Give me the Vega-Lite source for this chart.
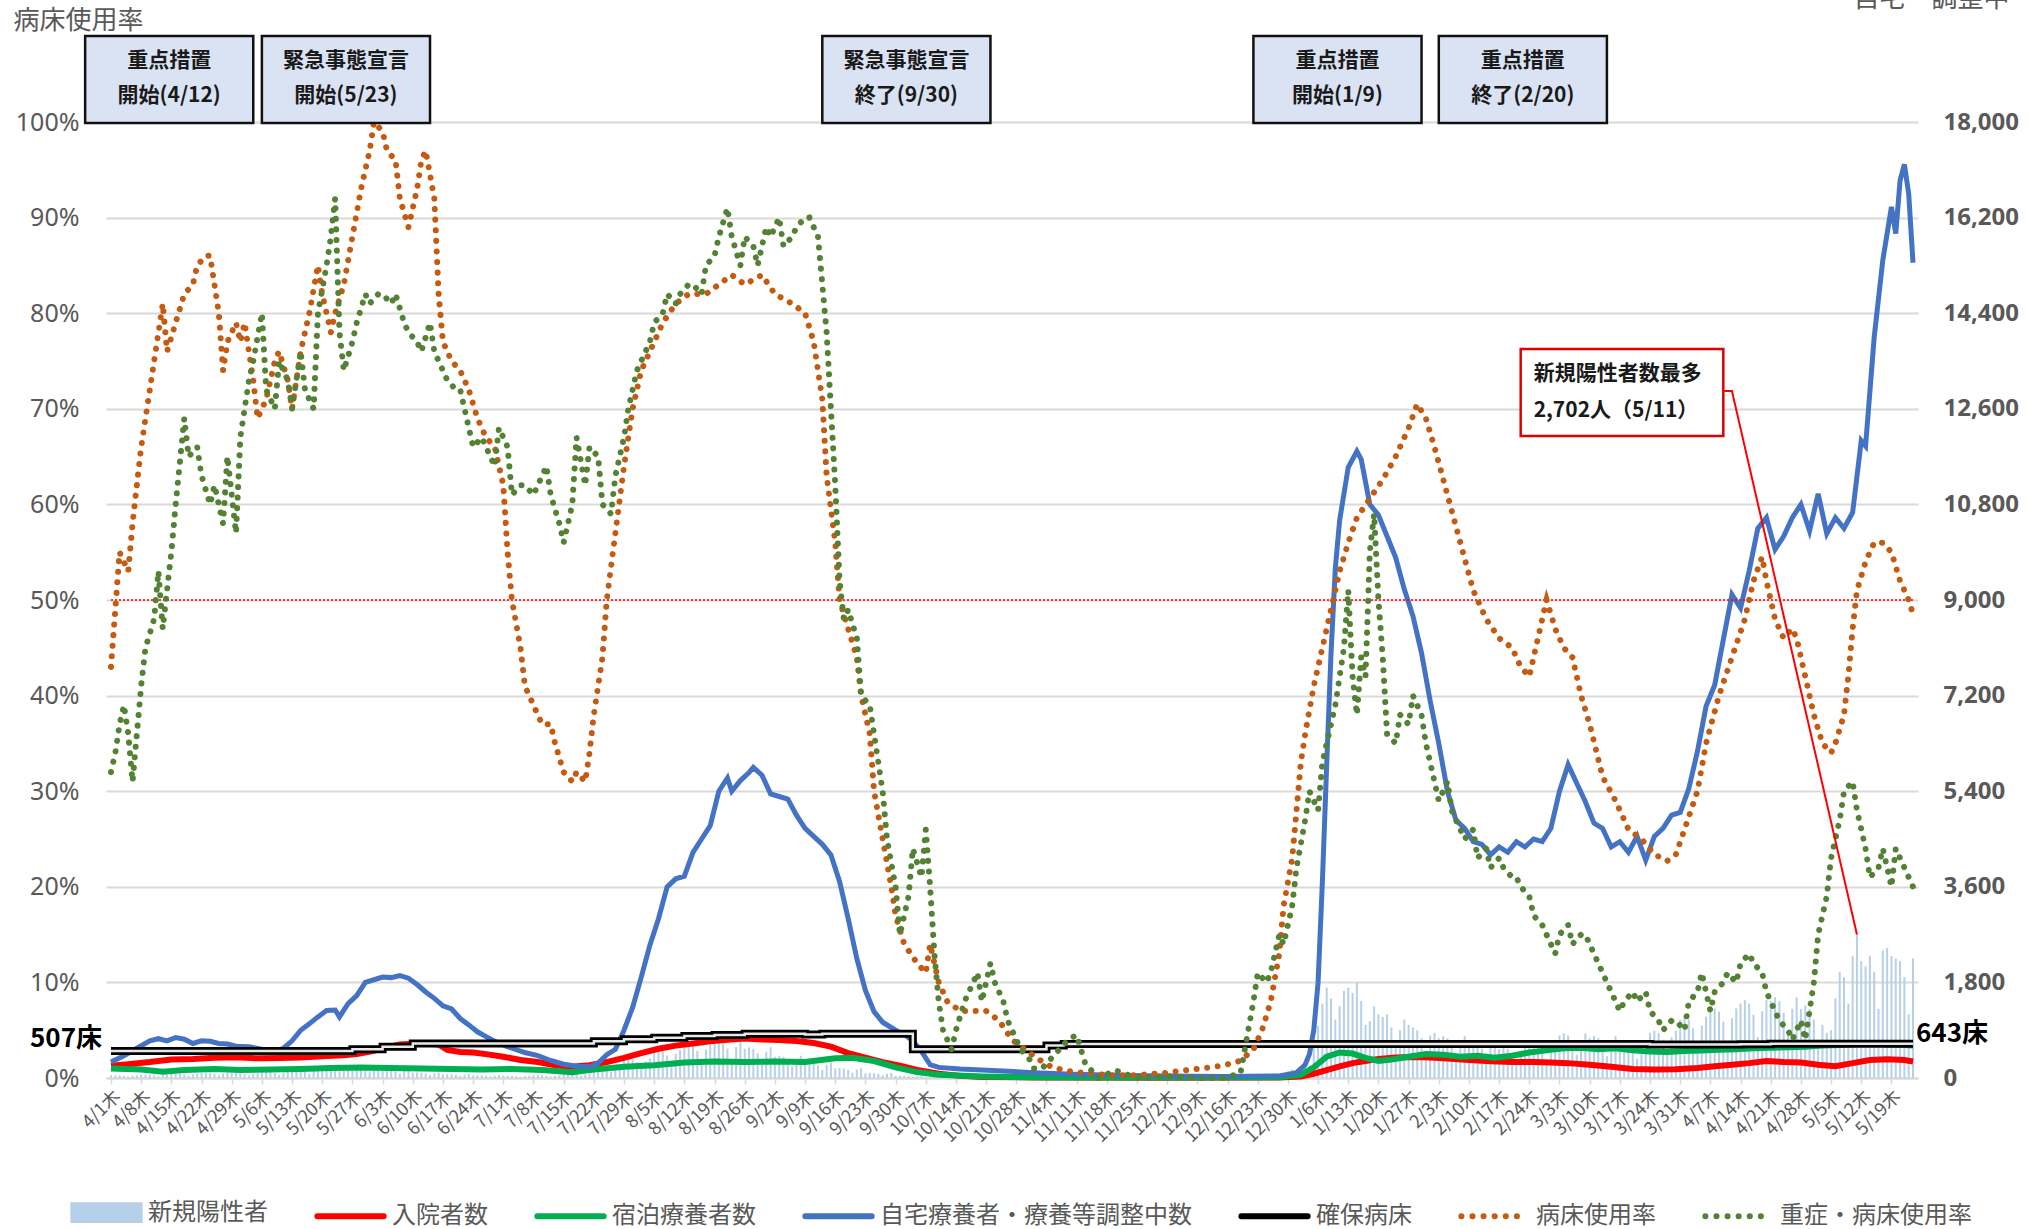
{
"$schema": "https://vega.github.io/schema/vega-lite/v6.json",
"width": 1812, "height": 956,
"autosize": {"type": "none"},
"padding": {"left": 106, "top": 122, "right": 111, "bottom": 151},
"background": "white",
"config": {"view": {"stroke": null}, "font": "Noto Sans CJK JP"},
"datasets": {
"pos": [
{"d":"2021-04-01","v":50},{"d":"2021-04-02","v":53},{"d":"2021-04-03","v":50},{"d":"2021-04-04","v":43},{"d":"2021-04-05","v":28},{"d":"2021-04-06","v":45},{"d":"2021-04-07","v":53},{"d":"2021-04-08","v":60},{"d":"2021-04-09","v":63},{"d":"2021-04-10","v":60},{"d":"2021-04-11","v":51},{"d":"2021-04-12","v":33},{"d":"2021-04-13","v":54},{"d":"2021-04-14","v":63},{"d":"2021-04-15","v":80},{"d":"2021-04-16","v":84},{"d":"2021-04-17","v":80},{"d":"2021-04-18","v":68},{"d":"2021-04-19","v":44},{"d":"2021-04-20","v":72},{"d":"2021-04-21","v":84},{"d":"2021-04-22","v":95},{"d":"2021-04-23","v":100},{"d":"2021-04-24","v":95},{"d":"2021-04-25","v":81},{"d":"2021-04-26","v":52},{"d":"2021-04-27","v":86},{"d":"2021-04-28","v":100},{"d":"2021-04-29","v":90},{"d":"2021-04-30","v":95},
{"d":"2021-05-01","v":90},{"d":"2021-05-02","v":77},{"d":"2021-05-03","v":50},{"d":"2021-05-04","v":81},{"d":"2021-05-05","v":95},{"d":"2021-05-06","v":110},{"d":"2021-05-07","v":116},{"d":"2021-05-08","v":110},{"d":"2021-05-09","v":94},{"d":"2021-05-10","v":61},{"d":"2021-05-11","v":99},{"d":"2021-05-12","v":116},{"d":"2021-05-13","v":150},{"d":"2021-05-14","v":158},{"d":"2021-05-15","v":150},{"d":"2021-05-16","v":128},{"d":"2021-05-17","v":83},{"d":"2021-05-18","v":135},{"d":"2021-05-19","v":158},{"d":"2021-05-20","v":230},{"d":"2021-05-21","v":242},{"d":"2021-05-22","v":230},{"d":"2021-05-23","v":196},{"d":"2021-05-24","v":127},{"d":"2021-05-25","v":207},{"d":"2021-05-26","v":242},{"d":"2021-05-27","v":200},{"d":"2021-05-28","v":210},{"d":"2021-05-29","v":200},{"d":"2021-05-30","v":170},{"d":"2021-05-31","v":110},
{"d":"2021-06-01","v":180},{"d":"2021-06-02","v":210},{"d":"2021-06-03","v":150},{"d":"2021-06-04","v":158},{"d":"2021-06-05","v":150},{"d":"2021-06-06","v":128},{"d":"2021-06-07","v":83},{"d":"2021-06-08","v":135},{"d":"2021-06-09","v":158},{"d":"2021-06-10","v":100},{"d":"2021-06-11","v":105},{"d":"2021-06-12","v":100},{"d":"2021-06-13","v":85},{"d":"2021-06-14","v":55},{"d":"2021-06-15","v":90},{"d":"2021-06-16","v":105},{"d":"2021-06-17","v":70},{"d":"2021-06-18","v":74},{"d":"2021-06-19","v":70},{"d":"2021-06-20","v":60},{"d":"2021-06-21","v":39},{"d":"2021-06-22","v":63},{"d":"2021-06-23","v":74},{"d":"2021-06-24","v":50},{"d":"2021-06-25","v":53},{"d":"2021-06-26","v":50},{"d":"2021-06-27","v":43},{"d":"2021-06-28","v":28},{"d":"2021-06-29","v":45},{"d":"2021-06-30","v":53},
{"d":"2021-07-01","v":40},{"d":"2021-07-02","v":42},{"d":"2021-07-03","v":40},{"d":"2021-07-04","v":34},{"d":"2021-07-05","v":22},{"d":"2021-07-06","v":36},{"d":"2021-07-07","v":42},{"d":"2021-07-08","v":50},{"d":"2021-07-09","v":53},{"d":"2021-07-10","v":50},{"d":"2021-07-11","v":43},{"d":"2021-07-12","v":28},{"d":"2021-07-13","v":45},{"d":"2021-07-14","v":53},{"d":"2021-07-15","v":80},{"d":"2021-07-16","v":84},{"d":"2021-07-17","v":80},{"d":"2021-07-18","v":68},{"d":"2021-07-19","v":44},{"d":"2021-07-20","v":72},{"d":"2021-07-21","v":84},{"d":"2021-07-22","v":200},{"d":"2021-07-23","v":210},{"d":"2021-07-24","v":200},{"d":"2021-07-25","v":170},{"d":"2021-07-26","v":110},{"d":"2021-07-27","v":180},{"d":"2021-07-28","v":210},{"d":"2021-07-29","v":350},{"d":"2021-07-30","v":368},{"d":"2021-07-31","v":350},
{"d":"2021-08-01","v":298},{"d":"2021-08-02","v":193},{"d":"2021-08-03","v":315},{"d":"2021-08-04","v":368},{"d":"2021-08-05","v":500},{"d":"2021-08-06","v":525},{"d":"2021-08-07","v":500},{"d":"2021-08-08","v":425},{"d":"2021-08-09","v":275},{"d":"2021-08-10","v":450},{"d":"2021-08-11","v":525},{"d":"2021-08-12","v":600},{"d":"2021-08-13","v":630},{"d":"2021-08-14","v":600},{"d":"2021-08-15","v":510},{"d":"2021-08-16","v":330},{"d":"2021-08-17","v":540},{"d":"2021-08-18","v":630},{"d":"2021-08-19","v":650},{"d":"2021-08-20","v":683},{"d":"2021-08-21","v":650},{"d":"2021-08-22","v":553},{"d":"2021-08-23","v":358},{"d":"2021-08-24","v":585},{"d":"2021-08-25","v":683},{"d":"2021-08-26","v":550},{"d":"2021-08-27","v":578},{"d":"2021-08-28","v":550},{"d":"2021-08-29","v":468},{"d":"2021-08-30","v":303},{"d":"2021-08-31","v":495},
{"d":"2021-09-01","v":578},{"d":"2021-09-02","v":400},{"d":"2021-09-03","v":420},{"d":"2021-09-04","v":400},{"d":"2021-09-05","v":340},{"d":"2021-09-06","v":220},{"d":"2021-09-07","v":360},{"d":"2021-09-08","v":420},{"d":"2021-09-09","v":280},{"d":"2021-09-10","v":294},{"d":"2021-09-11","v":280},{"d":"2021-09-12","v":238},{"d":"2021-09-13","v":154},{"d":"2021-09-14","v":252},{"d":"2021-09-15","v":294},{"d":"2021-09-16","v":180},{"d":"2021-09-17","v":189},{"d":"2021-09-18","v":180},{"d":"2021-09-19","v":153},{"d":"2021-09-20","v":99},{"d":"2021-09-21","v":162},{"d":"2021-09-22","v":189},{"d":"2021-09-23","v":90},{"d":"2021-09-24","v":95},{"d":"2021-09-25","v":90},{"d":"2021-09-26","v":77},{"d":"2021-09-27","v":50},{"d":"2021-09-28","v":81},{"d":"2021-09-29","v":95},{"d":"2021-09-30","v":40},
{"d":"2021-10-01","v":42},{"d":"2021-10-02","v":40},{"d":"2021-10-03","v":34},{"d":"2021-10-04","v":22},{"d":"2021-10-05","v":36},{"d":"2021-10-06","v":42},{"d":"2021-10-07","v":20},{"d":"2021-10-08","v":21},{"d":"2021-10-09","v":20},{"d":"2021-10-10","v":17},{"d":"2021-10-11","v":11},{"d":"2021-10-12","v":18},{"d":"2021-10-13","v":21},{"d":"2021-10-14","v":12},{"d":"2021-10-15","v":13},{"d":"2021-10-16","v":12},{"d":"2021-10-17","v":10},{"d":"2021-10-18","v":7},{"d":"2021-10-19","v":11},{"d":"2021-10-20","v":13},{"d":"2021-10-21","v":8},{"d":"2021-10-22","v":8},{"d":"2021-10-23","v":8},{"d":"2021-10-24","v":7},{"d":"2021-10-25","v":4},{"d":"2021-10-26","v":7},{"d":"2021-10-27","v":8},{"d":"2021-10-28","v":5},{"d":"2021-10-29","v":5},{"d":"2021-10-30","v":5},{"d":"2021-10-31","v":4},
{"d":"2021-11-01","v":3},{"d":"2021-11-02","v":5},{"d":"2021-11-03","v":5},{"d":"2021-11-04","v":4},{"d":"2021-11-05","v":4},{"d":"2021-11-06","v":4},{"d":"2021-11-07","v":3},{"d":"2021-11-08","v":2},{"d":"2021-11-09","v":4},{"d":"2021-11-10","v":4},{"d":"2021-11-11","v":3},{"d":"2021-11-12","v":3},{"d":"2021-11-13","v":3},{"d":"2021-11-14","v":3},{"d":"2021-11-15","v":2},{"d":"2021-11-16","v":3},{"d":"2021-11-17","v":3},{"d":"2021-11-18","v":2},{"d":"2021-11-19","v":2},{"d":"2021-11-20","v":2},{"d":"2021-11-21","v":2},{"d":"2021-11-22","v":1},{"d":"2021-11-23","v":2},{"d":"2021-11-24","v":2},{"d":"2021-11-25","v":2},{"d":"2021-11-26","v":2},{"d":"2021-11-27","v":2},{"d":"2021-11-28","v":2},{"d":"2021-11-29","v":1},{"d":"2021-11-30","v":2},
{"d":"2021-12-01","v":2},{"d":"2021-12-02","v":2},{"d":"2021-12-03","v":2},{"d":"2021-12-04","v":2},{"d":"2021-12-05","v":2},{"d":"2021-12-06","v":1},{"d":"2021-12-07","v":2},{"d":"2021-12-08","v":2},{"d":"2021-12-09","v":3},{"d":"2021-12-10","v":3},{"d":"2021-12-11","v":3},{"d":"2021-12-12","v":3},{"d":"2021-12-13","v":2},{"d":"2021-12-14","v":3},{"d":"2021-12-15","v":3},{"d":"2021-12-16","v":5},{"d":"2021-12-17","v":5},{"d":"2021-12-18","v":5},{"d":"2021-12-19","v":4},{"d":"2021-12-20","v":3},{"d":"2021-12-21","v":5},{"d":"2021-12-22","v":6},{"d":"2021-12-23","v":10},{"d":"2021-12-24","v":15},{"d":"2021-12-25","v":20},{"d":"2021-12-26","v":25},{"d":"2021-12-27","v":30},{"d":"2021-12-28","v":40},{"d":"2021-12-29","v":60},{"d":"2021-12-30","v":120},{"d":"2021-12-31","v":160},
{"d":"2022-01-01","v":130},{"d":"2022-01-02","v":200},{"d":"2022-01-03","v":225},{"d":"2022-01-04","v":225},{"d":"2022-01-05","v":620},{"d":"2022-01-06","v":980},{"d":"2022-01-07","v":1400},{"d":"2022-01-08","v":1700},{"d":"2022-01-09","v":1500},{"d":"2022-01-10","v":1100},{"d":"2022-01-11","v":1350},{"d":"2022-01-12","v":1640},{"d":"2022-01-13","v":1700},{"d":"2022-01-14","v":1600},{"d":"2022-01-15","v":1800},{"d":"2022-01-16","v":1450},{"d":"2022-01-17","v":1000},{"d":"2022-01-18","v":1070},{"d":"2022-01-19","v":1350},{"d":"2022-01-20","v":1200},{"d":"2022-01-21","v":1150},{"d":"2022-01-22","v":1200},{"d":"2022-01-23","v":950},{"d":"2022-01-24","v":600},{"d":"2022-01-25","v":900},{"d":"2022-01-26","v":1100},{"d":"2022-01-27","v":1000},{"d":"2022-01-28","v":950},{"d":"2022-01-29","v":900},{"d":"2022-01-30","v":750},{"d":"2022-01-31","v":500},
{"d":"2022-02-01","v":800},{"d":"2022-02-02","v":850},{"d":"2022-02-03","v":750},{"d":"2022-02-04","v":790},{"d":"2022-02-05","v":750},{"d":"2022-02-06","v":640},{"d":"2022-02-07","v":410},{"d":"2022-02-08","v":675},{"d":"2022-02-09","v":790},{"d":"2022-02-10","v":650},{"d":"2022-02-11","v":680},{"d":"2022-02-12","v":650},{"d":"2022-02-13","v":550},{"d":"2022-02-14","v":360},{"d":"2022-02-15","v":585},{"d":"2022-02-16","v":680},{"d":"2022-02-17","v":550},{"d":"2022-02-18","v":580},{"d":"2022-02-19","v":550},{"d":"2022-02-20","v":470},{"d":"2022-02-21","v":300},{"d":"2022-02-22","v":495},{"d":"2022-02-23","v":580},{"d":"2022-02-24","v":600},{"d":"2022-02-25","v":630},{"d":"2022-02-26","v":600},{"d":"2022-02-27","v":510},{"d":"2022-02-28","v":330},
{"d":"2022-03-01","v":540},{"d":"2022-03-02","v":630},{"d":"2022-03-03","v":800},{"d":"2022-03-04","v":840},{"d":"2022-03-05","v":800},{"d":"2022-03-06","v":680},{"d":"2022-03-07","v":440},{"d":"2022-03-08","v":720},{"d":"2022-03-09","v":840},{"d":"2022-03-10","v":750},{"d":"2022-03-11","v":790},{"d":"2022-03-12","v":750},{"d":"2022-03-13","v":640},{"d":"2022-03-14","v":410},{"d":"2022-03-15","v":675},{"d":"2022-03-16","v":790},{"d":"2022-03-17","v":650},{"d":"2022-03-18","v":680},{"d":"2022-03-19","v":650},{"d":"2022-03-20","v":550},{"d":"2022-03-21","v":360},{"d":"2022-03-22","v":585},{"d":"2022-03-23","v":680},{"d":"2022-03-24","v":850},{"d":"2022-03-25","v":890},{"d":"2022-03-26","v":850},{"d":"2022-03-27","v":720},{"d":"2022-03-28","v":470},{"d":"2022-03-29","v":765},{"d":"2022-03-30","v":890},{"d":"2022-03-31","v":1100},
{"d":"2022-04-01","v":1155},{"d":"2022-04-02","v":1100},{"d":"2022-04-03","v":935},{"d":"2022-04-04","v":605},{"d":"2022-04-05","v":990},{"d":"2022-04-06","v":1155},{"d":"2022-04-07","v":1250},{"d":"2022-04-08","v":1310},{"d":"2022-04-09","v":1250},{"d":"2022-04-10","v":1060},{"d":"2022-04-11","v":690},{"d":"2022-04-12","v":1125},{"d":"2022-04-13","v":1310},{"d":"2022-04-14","v":1400},{"d":"2022-04-15","v":1470},{"d":"2022-04-16","v":1400},{"d":"2022-04-17","v":1190},{"d":"2022-04-18","v":770},{"d":"2022-04-19","v":1260},{"d":"2022-04-20","v":1470},{"d":"2022-04-21","v":1450},{"d":"2022-04-22","v":1520},{"d":"2022-04-23","v":1450},{"d":"2022-04-24","v":1230},{"d":"2022-04-25","v":800},{"d":"2022-04-26","v":1305},{"d":"2022-04-27","v":1520},{"d":"2022-04-28","v":1300},{"d":"2022-04-29","v":1370},{"d":"2022-04-30","v":1300},
{"d":"2022-05-01","v":1100},{"d":"2022-05-02","v":720},{"d":"2022-05-03","v":1000},{"d":"2022-05-04","v":850},{"d":"2022-05-05","v":900},{"d":"2022-05-06","v":1500},{"d":"2022-05-07","v":2000},{"d":"2022-05-08","v":1900},{"d":"2022-05-09","v":1400},{"d":"2022-05-10","v":2300},{"d":"2022-05-11","v":2702},{"d":"2022-05-12","v":2200},{"d":"2022-05-13","v":2100},{"d":"2022-05-14","v":2300},{"d":"2022-05-15","v":2000},{"d":"2022-05-16","v":1300},{"d":"2022-05-17","v":2400},{"d":"2022-05-18","v":2450},{"d":"2022-05-19","v":2300},{"d":"2022-05-20","v":2250},{"d":"2022-05-21","v":2200},{"d":"2022-05-22","v":1900},{"d":"2022-05-23","v":1200},{"d":"2022-05-24","v":2250}
],
"hosp": [
{"d":"2021-04-01","v":230},{"d":"2021-04-05","v":260},{"d":"2021-04-10","v":300},{"d":"2021-04-15","v":350},{"d":"2021-04-20","v":360},{"d":"2021-04-25","v":380},{"d":"2021-04-30","v":390},{"d":"2021-05-05","v":370},{"d":"2021-05-10","v":375},{"d":"2021-05-15","v":385},{"d":"2021-05-20","v":410},{"d":"2021-05-25","v":430},{"d":"2021-05-28","v":450},{"d":"2021-06-01","v":510},{"d":"2021-06-04","v":580},{"d":"2021-06-07","v":630},{"d":"2021-06-10","v":645},{"d":"2021-06-13","v":650},{"d":"2021-06-16","v":630},{"d":"2021-06-18","v":530},{"d":"2021-06-21","v":490},{"d":"2021-06-24","v":480},{"d":"2021-06-27","v":450},{"d":"2021-07-01","v":400},{"d":"2021-07-05","v":340},{"d":"2021-07-09","v":300},{"d":"2021-07-13","v":240},{"d":"2021-07-17","v":210},{"d":"2021-07-21","v":240},{"d":"2021-07-25","v":300},{"d":"2021-07-29","v":380},{"d":"2021-08-02","v":470},{"d":"2021-08-06","v":550},{"d":"2021-08-10","v":610},{"d":"2021-08-14","v":650},{"d":"2021-08-18","v":690},{"d":"2021-08-22","v":720},{"d":"2021-08-26","v":745},{"d":"2021-08-30","v":725},{"d":"2021-09-03","v":715},{"d":"2021-09-07","v":695},{"d":"2021-09-11","v":660},{"d":"2021-09-15","v":590},{"d":"2021-09-19","v":470},{"d":"2021-09-23","v":385},{"d":"2021-09-27","v":300},{"d":"2021-10-01","v":230},{"d":"2021-10-05","v":150},{"d":"2021-10-10","v":80},{"d":"2021-10-15","v":40},{"d":"2021-10-20","v":20},{"d":"2021-11-01","v":10},{"d":"2021-12-01","v":5},{"d":"2021-12-28","v":10},
{"d":"2022-01-02","v":30},{"d":"2022-01-05","v":80},{"d":"2022-01-08","v":150},{"d":"2022-01-11","v":220},{"d":"2022-01-14","v":280},{"d":"2022-01-17","v":320},{"d":"2022-01-20","v":360},{"d":"2022-01-24","v":385},{"d":"2022-01-28","v":395},{"d":"2022-02-01","v":385},{"d":"2022-02-05","v":365},{"d":"2022-02-10","v":340},{"d":"2022-02-15","v":315},{"d":"2022-02-20","v":300},{"d":"2022-02-25","v":300},{"d":"2022-03-01","v":290},{"d":"2022-03-05","v":280},{"d":"2022-03-10","v":250},{"d":"2022-03-15","v":210},{"d":"2022-03-20","v":170},{"d":"2022-03-25","v":160},{"d":"2022-03-30","v":165},{"d":"2022-04-04","v":190},{"d":"2022-04-08","v":220},{"d":"2022-04-12","v":250},{"d":"2022-04-16","v":280},{"d":"2022-04-20","v":320},{"d":"2022-04-24","v":300},{"d":"2022-04-28","v":290},{"d":"2022-05-02","v":250},{"d":"2022-05-06","v":220},{"d":"2022-05-10","v":280},{"d":"2022-05-14","v":340},{"d":"2022-05-18","v":355},{"d":"2022-05-22","v":340},{"d":"2022-05-24","v":310}
],
"hotel": [
{"d":"2021-04-01","v":180},{"d":"2021-04-08","v":160},{"d":"2021-04-13","v":120},{"d":"2021-04-18","v":150},{"d":"2021-04-25","v":170},{"d":"2021-05-01","v":150},{"d":"2021-05-08","v":160},{"d":"2021-05-15","v":170},{"d":"2021-05-22","v":190},{"d":"2021-05-29","v":200},{"d":"2021-06-05","v":190},{"d":"2021-06-12","v":180},{"d":"2021-06-19","v":170},{"d":"2021-06-26","v":160},{"d":"2021-07-03","v":170},{"d":"2021-07-10","v":150},{"d":"2021-07-17","v":110},{"d":"2021-07-22","v":160},{"d":"2021-07-29","v":210},{"d":"2021-08-05","v":240},{"d":"2021-08-12","v":290},{"d":"2021-08-19","v":310},{"d":"2021-08-26","v":300},{"d":"2021-09-02","v":310},{"d":"2021-09-09","v":300},{"d":"2021-09-16","v":370},{"d":"2021-09-20","v":380},{"d":"2021-09-25","v":320},{"d":"2021-09-30","v":200},{"d":"2021-10-05","v":110},{"d":"2021-10-10","v":60},{"d":"2021-10-20","v":30},{"d":"2021-11-01","v":15},{"d":"2021-12-01","v":10},{"d":"2021-12-28","v":15},
{"d":"2022-01-02","v":60},{"d":"2022-01-05","v":200},{"d":"2022-01-08","v":400},{"d":"2022-01-11","v":480},{"d":"2022-01-14","v":460},{"d":"2022-01-17","v":380},{"d":"2022-01-20","v":320},{"d":"2022-01-23","v":350},{"d":"2022-01-27","v":400},{"d":"2022-01-31","v":450},{"d":"2022-02-04","v":440},{"d":"2022-02-08","v":400},{"d":"2022-02-12","v":420},{"d":"2022-02-16","v":380},{"d":"2022-02-20","v":420},{"d":"2022-02-24","v":480},{"d":"2022-02-28","v":520},{"d":"2022-03-04","v":560},{"d":"2022-03-08","v":570},{"d":"2022-03-12","v":540},{"d":"2022-03-16","v":560},{"d":"2022-03-20","v":520},{"d":"2022-03-24","v":500},{"d":"2022-03-28","v":490},{"d":"2022-04-01","v":510},{"d":"2022-04-05","v":520},{"d":"2022-04-09","v":530},{"d":"2022-04-13","v":540},{"d":"2022-04-17","v":560},{"d":"2022-04-21","v":570},{"d":"2022-04-25","v":580},{"d":"2022-04-29","v":590},{"d":"2022-05-03","v":610},{"d":"2022-05-07","v":620},{"d":"2022-05-11","v":640},{"d":"2022-05-14","v":660},{"d":"2022-05-18","v":630},{"d":"2022-05-22","v":620},{"d":"2022-05-24","v":610}
],
"home": [
{"d":"2021-04-01","v":300},{"d":"2021-04-04","v":420},{"d":"2021-04-07","v":560},{"d":"2021-04-10","v":700},{"d":"2021-04-12","v":740},{"d":"2021-04-14","v":700},{"d":"2021-04-16","v":760},{"d":"2021-04-18","v":730},{"d":"2021-04-20","v":650},{"d":"2021-04-22","v":700},{"d":"2021-04-24","v":690},{"d":"2021-04-26","v":650},{"d":"2021-04-28","v":640},{"d":"2021-04-30","v":600},{"d":"2021-05-03","v":590},{"d":"2021-05-06","v":540},{"d":"2021-05-09","v":500},{"d":"2021-05-11","v":560},{"d":"2021-05-13","v":700},{"d":"2021-05-15","v":900},{"d":"2021-05-17","v":1020},{"d":"2021-05-19","v":1150},{"d":"2021-05-21","v":1270},{"d":"2021-05-23","v":1280},{"d":"2021-05-24","v":1150},{"d":"2021-05-26","v":1400},{"d":"2021-05-28","v":1550},{"d":"2021-05-30","v":1800},{"d":"2021-06-01","v":1850},{"d":"2021-06-03","v":1900},{"d":"2021-06-05","v":1890},{"d":"2021-06-07","v":1930},{"d":"2021-06-09","v":1880},{"d":"2021-06-11","v":1760},{"d":"2021-06-13","v":1620},{"d":"2021-06-15","v":1500},{"d":"2021-06-17","v":1360},{"d":"2021-06-19","v":1300},{"d":"2021-06-21","v":1120},{"d":"2021-06-23","v":1000},{"d":"2021-06-25","v":870},{"d":"2021-06-27","v":780},{"d":"2021-06-30","v":650},{"d":"2021-07-03","v":560},{"d":"2021-07-06","v":480},{"d":"2021-07-09","v":420},{"d":"2021-07-12","v":330},{"d":"2021-07-15","v":260},{"d":"2021-07-18","v":220},{"d":"2021-07-21","v":210},{"d":"2021-07-23","v":280},{"d":"2021-07-25","v":440},{"d":"2021-07-27","v":540},{"d":"2021-07-29","v":900},{"d":"2021-07-31","v":1330},{"d":"2021-08-02","v":1900},{"d":"2021-08-04","v":2500},{"d":"2021-08-06","v":3000},{"d":"2021-08-08","v":3600},{"d":"2021-08-10","v":3750},{"d":"2021-08-12","v":3800},{"d":"2021-08-14","v":4250},{"d":"2021-08-16","v":4500},{"d":"2021-08-18","v":4750},{"d":"2021-08-20","v":5400},{"d":"2021-08-22","v":5650},{"d":"2021-08-23","v":5400},{"d":"2021-08-25","v":5600},{"d":"2021-08-27","v":5750},{"d":"2021-08-28","v":5850},{"d":"2021-08-30","v":5700},{"d":"2021-09-01","v":5350},{"d":"2021-09-03","v":5300},{"d":"2021-09-05","v":5250},{"d":"2021-09-07","v":4950},{"d":"2021-09-09","v":4700},{"d":"2021-09-11","v":4550},{"d":"2021-09-13","v":4400},{"d":"2021-09-15","v":4200},{"d":"2021-09-17","v":3700},{"d":"2021-09-19","v":3000},{"d":"2021-09-21","v":2250},{"d":"2021-09-23","v":1650},{"d":"2021-09-25","v":1250},{"d":"2021-09-27","v":1050},{"d":"2021-09-30","v":900},{"d":"2021-10-02","v":820},{"d":"2021-10-04","v":700},{"d":"2021-10-06","v":500},{"d":"2021-10-08","v":250},{"d":"2021-10-10","v":200},{"d":"2021-10-15","v":170},{"d":"2021-10-20","v":150},{"d":"2021-10-25","v":130},{"d":"2021-11-01","v":100},{"d":"2021-11-10","v":70},{"d":"2021-11-20","v":50},{"d":"2021-12-01","v":40},{"d":"2021-12-15","v":30},{"d":"2021-12-28","v":40},
{"d":"2022-01-01","v":100},{"d":"2022-01-03","v":250},{"d":"2022-01-04","v":450},{"d":"2022-01-05","v":900},{"d":"2022-01-06","v":1800},{"d":"2022-01-07","v":3700},{"d":"2022-01-08","v":5900},{"d":"2022-01-09","v":8000},{"d":"2022-01-10","v":9600},{"d":"2022-01-11","v":10500},{"d":"2022-01-13","v":11500},{"d":"2022-01-15","v":11800},{"d":"2022-01-16","v":11650},{"d":"2022-01-18","v":10800},{"d":"2022-01-20","v":10600},{"d":"2022-01-22","v":10200},{"d":"2022-01-24","v":9800},{"d":"2022-01-26","v":9200},{"d":"2022-01-28","v":8700},{"d":"2022-01-30","v":8000},{"d":"2022-02-01","v":7100},{"d":"2022-02-03","v":6300},{"d":"2022-02-05","v":5400},{"d":"2022-02-07","v":4850},{"d":"2022-02-09","v":4700},{"d":"2022-02-11","v":4450},{"d":"2022-02-13","v":4400},{"d":"2022-02-15","v":4200},{"d":"2022-02-17","v":4350},{"d":"2022-02-19","v":4250},{"d":"2022-02-21","v":4450},{"d":"2022-02-23","v":4350},{"d":"2022-02-25","v":4500},{"d":"2022-02-27","v":4450},{"d":"2022-03-01","v":4700},{"d":"2022-03-03","v":5400},{"d":"2022-03-05","v":5900},{"d":"2022-03-07","v":5550},{"d":"2022-03-09","v":5200},{"d":"2022-03-11","v":4800},{"d":"2022-03-13","v":4700},{"d":"2022-03-15","v":4350},{"d":"2022-03-17","v":4450},{"d":"2022-03-19","v":4250},{"d":"2022-03-21","v":4550},{"d":"2022-03-23","v":4100},{"d":"2022-03-25","v":4550},{"d":"2022-03-27","v":4700},{"d":"2022-03-29","v":4950},{"d":"2022-03-31","v":5000},{"d":"2022-04-02","v":5450},{"d":"2022-04-04","v":6150},{"d":"2022-04-06","v":7000},{"d":"2022-04-08","v":7400},{"d":"2022-04-10","v":8250},{"d":"2022-04-12","v":9100},{"d":"2022-04-14","v":8850},{"d":"2022-04-16","v":9550},{"d":"2022-04-18","v":10350},{"d":"2022-04-20","v":10550},{"d":"2022-04-22","v":9950},{"d":"2022-04-24","v":10200},{"d":"2022-04-26","v":10550},{"d":"2022-04-28","v":10800},{"d":"2022-04-30","v":10300},{"d":"2022-05-02","v":11000},{"d":"2022-05-04","v":10250},{"d":"2022-05-06","v":10550},{"d":"2022-05-08","v":10350},{"d":"2022-05-10","v":10650},{"d":"2022-05-12","v":12000},{"d":"2022-05-13","v":11900},{"d":"2022-05-15","v":13950},{"d":"2022-05-17","v":15400},{"d":"2022-05-19","v":16400},{"d":"2022-05-20","v":15900},{"d":"2022-05-21","v":16900},{"d":"2022-05-22","v":17200},{"d":"2022-05-23","v":16650},{"d":"2022-05-24","v":15350}
],
"beds": [
{"d":"2021-04-01","v":507},{"d":"2021-05-27","v":540},{"d":"2021-06-03","v":590},{"d":"2021-06-10","v":650},{"d":"2021-07-22","v":690},{"d":"2021-07-29","v":730},{"d":"2021-08-05","v":760},{"d":"2021-08-12","v":790},{"d":"2021-08-19","v":810},{"d":"2021-08-26","v":835},{"d":"2021-09-09","v":820},{"d":"2021-09-13","v":835},{"d":"2021-10-04","v":540},{"d":"2021-11-04","v":610},{"d":"2021-11-08","v":640},{"d":"2022-03-24","v":630},{"d":"2022-04-14","v":636},{"d":"2022-04-21","v":643},{"d":"2022-05-24","v":643}
],
"rate": [
{"d":"2021-04-01","v":43},{"d":"2021-04-02","v":49},{"d":"2021-04-03","v":55},{"d":"2021-04-05","v":53},{"d":"2021-04-06","v":58},{"d":"2021-04-08","v":66},{"d":"2021-04-10","v":72},{"d":"2021-04-12","v":78},{"d":"2021-04-13","v":81},{"d":"2021-04-14","v":76},{"d":"2021-04-16","v":79},{"d":"2021-04-18","v":82},{"d":"2021-04-20","v":83},{"d":"2021-04-21","v":85},{"d":"2021-04-23","v":86},{"d":"2021-04-24","v":86},{"d":"2021-04-26","v":80},{"d":"2021-04-27","v":74},{"d":"2021-04-28","v":77},{"d":"2021-04-30","v":79},{"d":"2021-05-01","v":77},{"d":"2021-05-02","v":79},{"d":"2021-05-04","v":73},{"d":"2021-05-05","v":69},{"d":"2021-05-07","v":71},{"d":"2021-05-09","v":75},{"d":"2021-05-10","v":76},{"d":"2021-05-12","v":73},{"d":"2021-05-13","v":70},{"d":"2021-05-15","v":76},{"d":"2021-05-17","v":80},{"d":"2021-05-19","v":85},{"d":"2021-05-20","v":82},{"d":"2021-05-22","v":78},{"d":"2021-05-23","v":80},{"d":"2021-05-25","v":83},{"d":"2021-05-27","v":88},{"d":"2021-05-29","v":93},{"d":"2021-05-31","v":97},{"d":"2021-06-01","v":100},{"d":"2021-06-03","v":99},{"d":"2021-06-04","v":97},{"d":"2021-06-06","v":96},{"d":"2021-06-07","v":92},{"d":"2021-06-09","v":89},{"d":"2021-06-11","v":93},{"d":"2021-06-12","v":96},{"d":"2021-06-13","v":97},{"d":"2021-06-15","v":92},{"d":"2021-06-16","v":82},{"d":"2021-06-17","v":77},{"d":"2021-06-19","v":75},{"d":"2021-06-21","v":74},{"d":"2021-06-23","v":72},{"d":"2021-06-25","v":69},{"d":"2021-06-27","v":67},{"d":"2021-06-29","v":66},{"d":"2021-07-01","v":62},{"d":"2021-07-02","v":55},{"d":"2021-07-03","v":50},{"d":"2021-07-05","v":45},{"d":"2021-07-06","v":41},{"d":"2021-07-08","v":39},{"d":"2021-07-10","v":37},{"d":"2021-07-12","v":37},{"d":"2021-07-13","v":35},{"d":"2021-07-15","v":32},{"d":"2021-07-17","v":31},{"d":"2021-07-18","v":32},{"d":"2021-07-20","v":31},{"d":"2021-07-21","v":34},{"d":"2021-07-22","v":38},{"d":"2021-07-24","v":44},{"d":"2021-07-25","v":50},{"d":"2021-07-27","v":57},{"d":"2021-07-29","v":64},{"d":"2021-07-31","v":70},{"d":"2021-08-02","v":74},{"d":"2021-08-04","v":76},{"d":"2021-08-07","v":79},{"d":"2021-08-10","v":81},{"d":"2021-08-13","v":82},{"d":"2021-08-17","v":82},{"d":"2021-08-20","v":83},{"d":"2021-08-23","v":84},{"d":"2021-08-26","v":83},{"d":"2021-08-30","v":84},{"d":"2021-09-02","v":82},{"d":"2021-09-06","v":81},{"d":"2021-09-09","v":80},{"d":"2021-09-11","v":77},{"d":"2021-09-13","v":71},{"d":"2021-09-14","v":63},{"d":"2021-09-16","v":56},{"d":"2021-09-17","v":50},{"d":"2021-09-19","v":47},{"d":"2021-09-21","v":44},{"d":"2021-09-22","v":40},{"d":"2021-09-24","v":36},{"d":"2021-09-25","v":30},{"d":"2021-09-27","v":25},{"d":"2021-09-29","v":20},{"d":"2021-09-30","v":17},{"d":"2021-10-02","v":14},{"d":"2021-10-05","v":12},{"d":"2021-10-07","v":11},{"d":"2021-10-08","v":14},{"d":"2021-10-10","v":10},{"d":"2021-10-12","v":8},{"d":"2021-10-15","v":7},{"d":"2021-10-18","v":7},{"d":"2021-10-21","v":7},{"d":"2021-10-24","v":6},{"d":"2021-10-27","v":4},{"d":"2021-10-30","v":3},{"d":"2021-11-02","v":2},{"d":"2021-11-05","v":1.2},{"d":"2021-11-08","v":0.8},{"d":"2021-11-13","v":0.5},{"d":"2021-11-19","v":0.3},{"d":"2021-11-25","v":0.3},{"d":"2021-12-01","v":0.5},{"d":"2021-12-06","v":0.8},{"d":"2021-12-10","v":1},{"d":"2021-12-15","v":1.3},{"d":"2021-12-19","v":1.8},{"d":"2021-12-22","v":3},{"d":"2021-12-24","v":5},{"d":"2021-12-26","v":8},{"d":"2021-12-28","v":13},{"d":"2021-12-29","v":18},{"d":"2021-12-31","v":23},
{"d":"2022-01-01","v":28},{"d":"2022-01-02","v":33},{"d":"2022-01-03","v":36},{"d":"2022-01-05","v":41},{"d":"2022-01-07","v":45},{"d":"2022-01-09","v":49},{"d":"2022-01-11","v":53},{"d":"2022-01-13","v":56},{"d":"2022-01-15","v":58.6},{"d":"2022-01-18","v":60.6},{"d":"2022-01-21","v":62.6},{"d":"2022-01-24","v":65},{"d":"2022-01-27","v":68},{"d":"2022-01-29","v":70.5},{"d":"2022-01-31","v":69},{"d":"2022-02-02","v":66},{"d":"2022-02-05","v":61},{"d":"2022-02-08","v":56},{"d":"2022-02-11","v":51},{"d":"2022-02-14","v":48},{"d":"2022-02-17","v":46},{"d":"2022-02-20","v":45},{"d":"2022-02-22","v":43},{"d":"2022-02-24","v":42},{"d":"2022-02-26","v":46},{"d":"2022-02-28","v":50},{"d":"2022-03-02","v":47},{"d":"2022-03-04","v":45},{"d":"2022-03-06","v":44},{"d":"2022-03-08","v":40},{"d":"2022-03-10","v":37},{"d":"2022-03-13","v":31.5},{"d":"2022-03-16","v":29},{"d":"2022-03-19","v":26},{"d":"2022-03-22","v":25},{"d":"2022-03-25","v":23.4},{"d":"2022-03-28","v":22.7},{"d":"2022-03-30","v":23.4},{"d":"2022-04-01","v":26},{"d":"2022-04-04","v":30},{"d":"2022-04-06","v":35},{"d":"2022-04-09","v":40},{"d":"2022-04-12","v":44},{"d":"2022-04-15","v":48},{"d":"2022-04-17","v":52},{"d":"2022-04-19","v":54.5},{"d":"2022-04-20","v":52},{"d":"2022-04-22","v":48},{"d":"2022-04-24","v":46},{"d":"2022-04-26","v":47},{"d":"2022-04-27","v":46},{"d":"2022-04-29","v":42},{"d":"2022-05-01","v":38},{"d":"2022-05-03","v":35},{"d":"2022-05-05","v":34},{"d":"2022-05-06","v":35},{"d":"2022-05-08","v":38},{"d":"2022-05-09","v":42},{"d":"2022-05-10","v":47},{"d":"2022-05-11","v":51},{"d":"2022-05-13","v":54},{"d":"2022-05-15","v":56},{"d":"2022-05-17","v":56},{"d":"2022-05-19","v":55},{"d":"2022-05-21","v":52},{"d":"2022-05-23","v":50},{"d":"2022-05-24","v":48.5}
],
"severe": [
{"d":"2021-04-01","v":32},{"d":"2021-04-02","v":34},{"d":"2021-04-03","v":37},{"d":"2021-04-04","v":39},{"d":"2021-04-05","v":36},{"d":"2021-04-06","v":31},{"d":"2021-04-08","v":41},{"d":"2021-04-09","v":45},{"d":"2021-04-11","v":48},{"d":"2021-04-12","v":53},{"d":"2021-04-13","v":47},{"d":"2021-04-14","v":51},{"d":"2021-04-15","v":55},{"d":"2021-04-16","v":60},{"d":"2021-04-18","v":69},{"d":"2021-04-19","v":65},{"d":"2021-04-21","v":66},{"d":"2021-04-22","v":63},{"d":"2021-04-24","v":60},{"d":"2021-04-25","v":62},{"d":"2021-04-27","v":58},{"d":"2021-04-28","v":65},{"d":"2021-04-30","v":57},{"d":"2021-05-01","v":67},{"d":"2021-05-03","v":73},{"d":"2021-05-04","v":75},{"d":"2021-05-06","v":80},{"d":"2021-05-07","v":72},{"d":"2021-05-09","v":70},{"d":"2021-05-10","v":75},{"d":"2021-05-12","v":73},{"d":"2021-05-13","v":70},{"d":"2021-05-15","v":76},{"d":"2021-05-16","v":72},{"d":"2021-05-18","v":70},{"d":"2021-05-19","v":80},{"d":"2021-05-21","v":85},{"d":"2021-05-22","v":88},{"d":"2021-05-23","v":92},{"d":"2021-05-24","v":78},{"d":"2021-05-25","v":74},{"d":"2021-05-27","v":77},{"d":"2021-05-28","v":79},{"d":"2021-05-30","v":82},{"d":"2021-05-31","v":81},{"d":"2021-06-02","v":82},{"d":"2021-06-03","v":82},{"d":"2021-06-05","v":81},{"d":"2021-06-06","v":82},{"d":"2021-06-08","v":79},{"d":"2021-06-09","v":78},{"d":"2021-06-11","v":77},{"d":"2021-06-12","v":76},{"d":"2021-06-14","v":79},{"d":"2021-06-15","v":76},{"d":"2021-06-17","v":74},{"d":"2021-06-18","v":73},{"d":"2021-06-20","v":72},{"d":"2021-06-21","v":72},{"d":"2021-06-23","v":68},{"d":"2021-06-24","v":66},{"d":"2021-06-26","v":67},{"d":"2021-06-27","v":66},{"d":"2021-06-29","v":64},{"d":"2021-06-30","v":68},{"d":"2021-07-02","v":66},{"d":"2021-07-03","v":61},{"d":"2021-07-05","v":62},{"d":"2021-07-06","v":62},{"d":"2021-07-08","v":61},{"d":"2021-07-09","v":62},{"d":"2021-07-11","v":64},{"d":"2021-07-12","v":61},{"d":"2021-07-14","v":58},{"d":"2021-07-15","v":56},{"d":"2021-07-17","v":60},{"d":"2021-07-18","v":67},{"d":"2021-07-20","v":62},{"d":"2021-07-21","v":66},{"d":"2021-07-23","v":65},{"d":"2021-07-24","v":60},{"d":"2021-07-26","v":59},{"d":"2021-07-27","v":63},{"d":"2021-07-29","v":67},{"d":"2021-07-30","v":70},{"d":"2021-08-01","v":74},{"d":"2021-08-02","v":75},{"d":"2021-08-04","v":77},{"d":"2021-08-05","v":79},{"d":"2021-08-07","v":80},{"d":"2021-08-08","v":82},{"d":"2021-08-10","v":81},{"d":"2021-08-11","v":82},{"d":"2021-08-13","v":83},{"d":"2021-08-14","v":83},{"d":"2021-08-16","v":82},{"d":"2021-08-17","v":85},{"d":"2021-08-19","v":86},{"d":"2021-08-20","v":88},{"d":"2021-08-22","v":91},{"d":"2021-08-23","v":88},{"d":"2021-08-25","v":85},{"d":"2021-08-26","v":88},{"d":"2021-08-28","v":87},{"d":"2021-08-29","v":85},{"d":"2021-08-31","v":89},{"d":"2021-09-01","v":88},{"d":"2021-09-03","v":90},{"d":"2021-09-04","v":87},{"d":"2021-09-06","v":88},{"d":"2021-09-07","v":89},{"d":"2021-09-09","v":90},{"d":"2021-09-10","v":90},{"d":"2021-09-12","v":88},{"d":"2021-09-13","v":83},{"d":"2021-09-14","v":78},{"d":"2021-09-15","v":70},{"d":"2021-09-16","v":62},{"d":"2021-09-17","v":52},{"d":"2021-09-18","v":48},{"d":"2021-09-19","v":49},{"d":"2021-09-21","v":46},{"d":"2021-09-22","v":40},{"d":"2021-09-24","v":39},{"d":"2021-09-25","v":36},{"d":"2021-09-27","v":30},{"d":"2021-09-28","v":25},{"d":"2021-09-30","v":20},{"d":"2021-10-01","v":15},{"d":"2021-10-03","v":19},{"d":"2021-10-04","v":24},{"d":"2021-10-06","v":21},{"d":"2021-10-07","v":26},{"d":"2021-10-08","v":20},{"d":"2021-10-09","v":13},{"d":"2021-10-10","v":8},{"d":"2021-10-11","v":5},{"d":"2021-10-13","v":3},{"d":"2021-10-14","v":5},{"d":"2021-10-16","v":8},{"d":"2021-10-17","v":9},{"d":"2021-10-19","v":11},{"d":"2021-10-20","v":8},{"d":"2021-10-22","v":12},{"d":"2021-10-23","v":10},{"d":"2021-10-25","v":8},{"d":"2021-10-26","v":6},{"d":"2021-10-28","v":4},{"d":"2021-10-29","v":3},{"d":"2021-10-31","v":2},{"d":"2021-11-01","v":1},{"d":"2021-11-03","v":1},{"d":"2021-11-05","v":2},{"d":"2021-11-07","v":3},{"d":"2021-11-09","v":4},{"d":"2021-11-11","v":4.5},{"d":"2021-11-12","v":3},{"d":"2021-11-13","v":1.5},{"d":"2021-11-15","v":0.5},{"d":"2021-11-16","v":0},{"d":"2021-11-20","v":0.8},{"d":"2021-11-23","v":0.3},{"d":"2021-11-27","v":0},{"d":"2021-12-02","v":0.2},{"d":"2021-12-10","v":0},{"d":"2021-12-15","v":0},{"d":"2021-12-19","v":0.5},{"d":"2021-12-20","v":3},{"d":"2021-12-22","v":8},{"d":"2021-12-23","v":11},{"d":"2021-12-25","v":10},{"d":"2021-12-26","v":11},{"d":"2021-12-28","v":15},{"d":"2021-12-29","v":14},{"d":"2021-12-31","v":18},
{"d":"2022-01-01","v":22},{"d":"2022-01-03","v":27},{"d":"2022-01-04","v":30},{"d":"2022-01-06","v":28},{"d":"2022-01-07","v":33},{"d":"2022-01-09","v":37},{"d":"2022-01-10","v":39},{"d":"2022-01-12","v":45},{"d":"2022-01-13","v":51},{"d":"2022-01-14","v":42},{"d":"2022-01-15","v":38},{"d":"2022-01-16","v":44},{"d":"2022-01-17","v":42},{"d":"2022-01-18","v":55},{"d":"2022-01-19","v":59},{"d":"2022-01-20","v":50},{"d":"2022-01-21","v":44},{"d":"2022-01-22","v":36},{"d":"2022-01-24","v":35},{"d":"2022-01-25","v":38},{"d":"2022-01-27","v":37},{"d":"2022-01-28","v":40},{"d":"2022-01-30","v":38},{"d":"2022-01-31","v":35},{"d":"2022-02-02","v":31},{"d":"2022-02-03","v":29},{"d":"2022-02-05","v":31},{"d":"2022-02-06","v":28},{"d":"2022-02-08","v":26},{"d":"2022-02-09","v":25},{"d":"2022-02-11","v":26},{"d":"2022-02-12","v":23},{"d":"2022-02-14","v":24},{"d":"2022-02-15","v":22},{"d":"2022-02-17","v":23},{"d":"2022-02-18","v":22},{"d":"2022-02-20","v":21},{"d":"2022-02-21","v":21},{"d":"2022-02-22","v":20},{"d":"2022-02-24","v":19},{"d":"2022-02-25","v":17},{"d":"2022-02-27","v":16},{"d":"2022-02-28","v":15},{"d":"2022-03-02","v":13},{"d":"2022-03-03","v":15},{"d":"2022-03-05","v":16},{"d":"2022-03-06","v":14},{"d":"2022-03-08","v":15},{"d":"2022-03-09","v":15},{"d":"2022-03-11","v":13},{"d":"2022-03-12","v":12},{"d":"2022-03-14","v":10},{"d":"2022-03-15","v":9},{"d":"2022-03-17","v":7},{"d":"2022-03-18","v":8},{"d":"2022-03-20","v":9},{"d":"2022-03-21","v":8},{"d":"2022-03-23","v":9},{"d":"2022-03-24","v":7},{"d":"2022-03-26","v":6},{"d":"2022-03-27","v":5},{"d":"2022-03-29","v":6},{"d":"2022-03-30","v":6},{"d":"2022-04-01","v":5},{"d":"2022-04-02","v":8},{"d":"2022-04-04","v":9},{"d":"2022-04-05","v":11},{"d":"2022-04-07","v":7},{"d":"2022-04-08","v":9},{"d":"2022-04-10","v":10},{"d":"2022-04-11","v":11},{"d":"2022-04-13","v":10},{"d":"2022-04-14","v":12},{"d":"2022-04-16","v":13},{"d":"2022-04-17","v":12},{"d":"2022-04-19","v":11},{"d":"2022-04-20","v":9},{"d":"2022-04-22","v":7},{"d":"2022-04-23","v":6},{"d":"2022-04-25","v":5},{"d":"2022-04-26","v":4},{"d":"2022-04-28","v":6},{"d":"2022-04-29","v":4},{"d":"2022-05-01","v":10},{"d":"2022-05-02","v":15},{"d":"2022-05-04","v":19},{"d":"2022-05-05","v":23},{"d":"2022-05-07","v":27},{"d":"2022-05-08","v":30},{"d":"2022-05-10","v":31},{"d":"2022-05-11","v":28},{"d":"2022-05-13","v":24},{"d":"2022-05-14","v":21},{"d":"2022-05-16","v":22},{"d":"2022-05-17","v":24},{"d":"2022-05-19","v":20},{"d":"2022-05-20","v":24},{"d":"2022-05-22","v":22},{"d":"2022-05-23","v":21},{"d":"2022-05-24","v":20}
]
},
"encoding": {
"x": {"field": "d", "type": "temporal",
"scale": {"type": "utc", "domain": [{"year":2021,"month":4,"date":1,"utc":true},{"year":2022,"month":5,"date":24,"utc":true}]},
"axis": {"title": null, "grid": false, "format": "%-m/%-d木", "labelAngle": -45, "labelOverlap": false, "labelFontSize": 18, "labelColor": "#595959", "labelFont": "Noto Sans CJK JP", "labelPadding": 3, "tickColor": "#d9d9d9", "tickSize": 6, "tickWidth": 1.5, "domainColor": "#d9d9d9", "domainWidth": 2,
"values": [{"year":2021,"month":4,"date":1,"utc":true},{"year":2021,"month":4,"date":8,"utc":true},{"year":2021,"month":4,"date":15,"utc":true},{"year":2021,"month":4,"date":22,"utc":true},{"year":2021,"month":4,"date":29,"utc":true},{"year":2021,"month":5,"date":6,"utc":true},{"year":2021,"month":5,"date":13,"utc":true},{"year":2021,"month":5,"date":20,"utc":true},{"year":2021,"month":5,"date":27,"utc":true},{"year":2021,"month":6,"date":3,"utc":true},{"year":2021,"month":6,"date":10,"utc":true},{"year":2021,"month":6,"date":17,"utc":true},{"year":2021,"month":6,"date":24,"utc":true},{"year":2021,"month":7,"date":1,"utc":true},{"year":2021,"month":7,"date":8,"utc":true},{"year":2021,"month":7,"date":15,"utc":true},{"year":2021,"month":7,"date":22,"utc":true},{"year":2021,"month":7,"date":29,"utc":true},{"year":2021,"month":8,"date":5,"utc":true},{"year":2021,"month":8,"date":12,"utc":true},{"year":2021,"month":8,"date":19,"utc":true},{"year":2021,"month":8,"date":26,"utc":true},{"year":2021,"month":9,"date":2,"utc":true},{"year":2021,"month":9,"date":9,"utc":true},{"year":2021,"month":9,"date":16,"utc":true},{"year":2021,"month":9,"date":23,"utc":true},{"year":2021,"month":9,"date":30,"utc":true},{"year":2021,"month":10,"date":7,"utc":true},{"year":2021,"month":10,"date":14,"utc":true},{"year":2021,"month":10,"date":21,"utc":true},{"year":2021,"month":10,"date":28,"utc":true},{"year":2021,"month":11,"date":4,"utc":true},{"year":2021,"month":11,"date":11,"utc":true},{"year":2021,"month":11,"date":18,"utc":true},{"year":2021,"month":11,"date":25,"utc":true},{"year":2021,"month":12,"date":2,"utc":true},{"year":2021,"month":12,"date":9,"utc":true},{"year":2021,"month":12,"date":16,"utc":true},{"year":2021,"month":12,"date":23,"utc":true},{"year":2021,"month":12,"date":30,"utc":true},{"year":2022,"month":1,"date":6,"utc":true},{"year":2022,"month":1,"date":13,"utc":true},{"year":2022,"month":1,"date":20,"utc":true},{"year":2022,"month":1,"date":27,"utc":true},{"year":2022,"month":2,"date":3,"utc":true},{"year":2022,"month":2,"date":10,"utc":true},{"year":2022,"month":2,"date":17,"utc":true},{"year":2022,"month":2,"date":24,"utc":true},{"year":2022,"month":3,"date":3,"utc":true},{"year":2022,"month":3,"date":10,"utc":true},{"year":2022,"month":3,"date":17,"utc":true},{"year":2022,"month":3,"date":24,"utc":true},{"year":2022,"month":3,"date":31,"utc":true},{"year":2022,"month":4,"date":7,"utc":true},{"year":2022,"month":4,"date":14,"utc":true},{"year":2022,"month":4,"date":21,"utc":true},{"year":2022,"month":4,"date":28,"utc":true},{"year":2022,"month":5,"date":5,"utc":true},{"year":2022,"month":5,"date":12,"utc":true},{"year":2022,"month":5,"date":19,"utc":true}]
}}
},
"layer": [
{
"encoding": {"y": {"field": "v", "type": "quantitative", "scale": {"domain": [0, 18000], "nice": false},
"axis": {"orient": "right", "values": [0,1800,3600,5400,7200,9000,10800,12600,14400,16200,18000], "labelExpr": "format(datum.value, ',')", "labelFontSize": 24, "labelFontWeight": "bold", "labelColor": "#595959", "labelFont": "Noto Sans", "labelPadding": 25, "ticks": false, "domain": false, "grid": false,
"title": "自宅・調整中", "titleAngle": 0, "titleX": -65, "titleY": -124, "titleAlign": "left", "titleBaseline": "middle", "titleFontSize": 26, "titleFontWeight": "normal", "titleColor": "#595959", "titleFont": "Noto Sans CJK JP"}}},
"layer": [
{"data": {"name": "pos"}, "mark": {"type": "bar", "width": 2},
 "encoding": {"color": {"datum": "新規陽性者", "type": "nominal",
  "scale": {"domain": ["新規陽性者","入院者数","宿泊療養者数","自宅療養者・療養等調整中数","確保病床","病床使用率","重症・病床使用率"], "range": ["#b7d0ea","#ff0000","#00b050","#4472c4","#000000","#c55a11","#548235"]},
  "legend": {"orient": "none", "legendX": -36, "legendY": 1054, "direction": "horizontal", "columns": 7, "title": null,
   "symbolType": "stroke", "symbolSize": 4400, "symbolStrokeWidth": 6, "labelFontSize": 24, "labelFont": "Noto Sans CJK JP", "labelColor": "#595959", "labelLimit": 400, "columnPadding": 37, "labelOffset": 5,
   "encode": {"symbols": {"update": {
     "size": {"value": 4400},
     "strokeWidth": {"value": 6},
     "shape": {"signal": "datum.value === '新規陽性者' ? 'M-1,-0.22H1V0.22H-1Z' : 'stroke'"},
     "fill": {"signal": "datum.value === '新規陽性者' ? '#b7d0ea' : 'transparent'"},
     "stroke": {"signal": "datum.value === '新規陽性者' ? 'transparent' : scale('color', datum.value)"},
     "opacity": {"value": 1},
     "strokeDash": {"signal": "(datum.value === '病床使用率' || datum.value === '重症・病床使用率') ? [0.1, 11] : [1, 0]"},
     "strokeCap": {"value": "round"}}}}}}}},
{"data": {"name": "hosp"}, "mark": {"type": "line", "strokeWidth": 6}, "encoding": {"color": {"datum": "入院者数", "type": "nominal"}}},
{"data": {"name": "hotel"}, "mark": {"type": "line", "strokeWidth": 6}, "encoding": {"color": {"datum": "宿泊療養者数", "type": "nominal"}}},
{"data": {"name": "home"}, "mark": {"type": "line", "strokeWidth": 5}, "encoding": {"color": {"datum": "自宅療養者・療養等調整中数", "type": "nominal"}}},
{"data": {"name": "beds"}, "mark": {"type": "line", "strokeWidth": 8, "interpolate": "step-after"}, "encoding": {"color": {"datum": "確保病床", "type": "nominal"}}},
{"data": {"name": "beds"}, "mark": {"type": "line", "strokeWidth": 2.5, "interpolate": "step-after", "color": "#e8e8e8"}, "encoding": {}},
{"data": {"values": [{"d": "2021-04-01", "v": 507, "t": "507床"}]}, "mark": {"type": "text", "align": "right", "baseline": "middle", "dx": -9, "dy": -12, "fontSize": 26, "fontWeight": "bold", "color": "#000000"}, "encoding": {"text": {"field": "t"}}},
{"data": {"values": [{"d": "2022-05-24", "v": 643, "t": "643床"}]}, "mark": {"type": "text", "align": "left", "baseline": "middle", "dx": 3, "dy": -10, "fontSize": 26, "fontWeight": "bold", "color": "#000000"}, "encoding": {"text": {"field": "t"}}}
]
},
{
"encoding": {"y": {"field": "v", "type": "quantitative", "scale": {"domain": [0, 100], "nice": false},
"axis": {"orient": "left", "values": [0,10,20,30,40,50,60,70,80,90,100], "labelExpr": "datum.value + '%'", "labelFontSize": 25, "labelColor": "#595959", "labelFont": "Noto Sans", "labelPadding": 27, "ticks": false, "domain": false, "grid": true, "gridColor": "#d9d9d9", "gridWidth": 2,
"title": "病床使用率", "titleAngle": 0, "titleX": -93, "titleY": -102, "titleAlign": "left", "titleBaseline": "middle", "titleFontSize": 26, "titleFontWeight": "normal", "titleColor": "#595959", "titleFont": "Noto Sans CJK JP"}}},
"layer": [
{"data": {"values": [{"d": "2021-04-12"}, {"d": "2021-05-23"}, {"d": "2021-09-30"}, {"d": "2022-01-09"}, {"d": "2022-02-20"}]}, "mark": {"type": "rule", "strokeDash": [4, 4], "strokeWidth": 1.5, "color": "#222222"}, "encoding": {"y": {"datum": 0}, "y2": {"datum": 100}}},
{"data": {"values": [{"d": "2021-04-01", "v": 50}, {"d": "2022-05-24", "v": 50}]}, "mark": {"type": "line", "color": "#ff0000", "strokeDash": [2, 2], "strokeWidth": 1.5}, "encoding": {}},
{"data": {"name": "rate"}, "mark": {"type": "line", "strokeWidth": 6, "strokeDash": [0.1, 10.5], "strokeCap": "round"}, "encoding": {"color": {"datum": "病床使用率", "type": "nominal"}}},
{"data": {"name": "severe"}, "mark": {"type": "line", "strokeWidth": 6, "strokeDash": [0.1, 10.5], "strokeCap": "round"}, "encoding": {"color": {"datum": "重症・病床使用率", "type": "nominal"}}},
{"data": {"values": [
  {"d": "2021-03-26", "e": "2021-05-04", "v": 99.9, "v2": 109},
  {"d": "2021-05-06", "e": "2021-06-14", "v": 99.9, "v2": 109},
  {"d": "2021-09-13", "e": "2021-10-22", "v": 99.9, "v2": 109},
  {"d": "2021-12-22", "e": "2022-01-30", "v": 99.9, "v2": 109},
  {"d": "2022-02-03", "e": "2022-03-14", "v": 99.9, "v2": 109}], "format": {"parse": {"e": "date"}}},
 "mark": {"type": "rect", "fill": "#dae3f3", "stroke": "#111111", "strokeWidth": 2.5},
 "encoding": {"x2": {"field": "e"}, "y2": {"field": "v2"}}},
{"data": {"values": [
  {"d": "2021-04-14T12:00:00Z", "v": 106.4, "t": "重点措置"}, {"d": "2021-04-14T12:00:00Z", "v": 102.7, "t": "開始(4/12)"},
  {"d": "2021-05-25T12:00:00Z", "v": 106.4, "t": "緊急事態宣言"}, {"d": "2021-05-25T12:00:00Z", "v": 102.7, "t": "開始(5/23)"},
  {"d": "2021-10-02T12:00:00Z", "v": 106.4, "t": "緊急事態宣言"}, {"d": "2021-10-02T12:00:00Z", "v": 102.7, "t": "終了(9/30)"},
  {"d": "2022-01-10T12:00:00Z", "v": 106.4, "t": "重点措置"}, {"d": "2022-01-10T12:00:00Z", "v": 102.7, "t": "開始(1/9)"},
  {"d": "2022-02-22T12:00:00Z", "v": 106.4, "t": "重点措置"}, {"d": "2022-02-22T12:00:00Z", "v": 102.7, "t": "終了(2/20)"}]},
 "mark": {"type": "text", "fontSize": 21, "fontWeight": "bold", "color": "#1a1a1a", "align": "center", "baseline": "middle"},
 "encoding": {"text": {"field": "t"}}}
]
},
{
"encoding": {"y": {"field": "v", "type": "quantitative", "scale": {"domain": [0, 18000], "nice": false}, "axis": null}},
"layer": [
{"data": {"values": [{"d": "2022-02-22", "e": "2022-04-10", "v": 13727, "v2": 12089}], "format": {"parse": {"e": "date"}}},
 "mark": {"type": "rect", "fill": "#ffffff", "stroke": "#e00000", "strokeWidth": 2.5},
 "encoding": {"x2": {"field": "e"}, "y2": {"field": "v2"}}},
{"data": {"values": [{"d": "2022-02-25", "v": 13256, "t": "新規陽性者数最多"}, {"d": "2022-02-25", "v": 12560, "t": "2,702人（5/11）"}]},
 "mark": {"type": "text", "align": "left", "baseline": "middle", "fontSize": 21, "fontWeight": "bold", "color": "#1a1a1a"},
 "encoding": {"text": {"field": "t"}}},
{"data": {"values": [{"d": "2022-04-10", "v": 12937}, {"d": "2022-04-12", "v": 12937}, {"d": "2022-05-11", "v": 2702}]},
 "mark": {"type": "line", "color": "#ff0000", "strokeWidth": 2}, "encoding": {}}
]
}
],
"resolve": {"scale": {"y": "independent"}}
}
